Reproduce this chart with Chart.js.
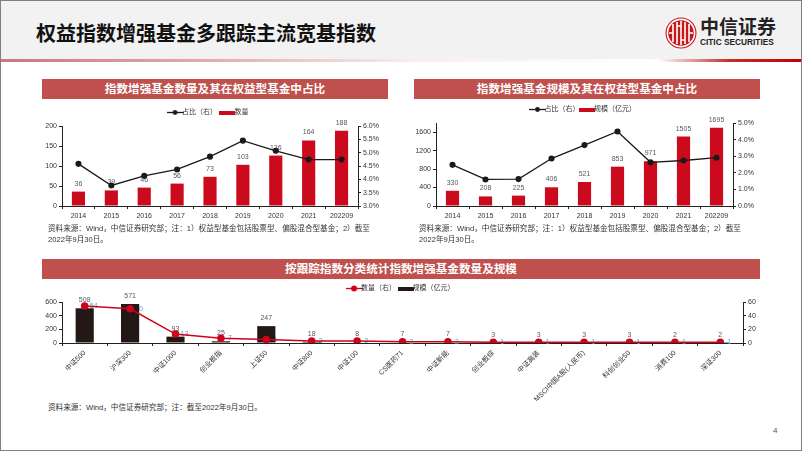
<!DOCTYPE html>
<html>
<head>
<meta charset="utf-8">
<script src="https://cdn.jsdelivr.net/npm/chart.js@4/dist/chart.umd.min.js"></script>
<style>
html,body{margin:0;padding:0;background:#fff;}
body{width:802px;height:451px;position:relative;overflow:hidden;font-family:"Liberation Sans","Noto Sans CJK SC",sans-serif;}
.abs{position:absolute;}
#frame{left:0;top:0;width:800px;height:449px;border:1px solid #808080;border-width:1px 1px 2px 1px;z-index:5;pointer-events:none;}
#head{left:0;top:0;width:802px;height:59px;background:#f2f2f2;}
#rule{left:0;top:59px;width:802px;height:3px;background:linear-gradient(90deg,#c9777a 0%,#e6b5b7 30%,#fbeeee 52%,#fff 82%,#c62a2a 91%,#c00000 100%);}
#title{left:36px;top:20px;font-size:20px;line-height:28px;font-weight:bold;color:#111;white-space:nowrap;}
.banner{background:#c0504d;color:#fff;font-weight:bold;font-size:11.6px;line-height:20px;height:20px;text-align:center;}
.note{font-size:7.6px;line-height:11px;color:#333;white-space:nowrap;}
canvas{position:absolute;}
#logoCn{left:700px;top:14px;font-size:19px;line-height:24px;font-weight:bold;color:#222;font-family:"Noto Sans CJK SC";white-space:nowrap;}
#logoEn{left:700px;top:37px;font-size:8.3px;line-height:10px;font-weight:bold;color:#222;white-space:nowrap;}
#page{left:773px;top:426px;font-size:8px;line-height:10px;color:#555;}
</style>
</head>
<body>
<div class="abs" id="head"></div>
<div class="abs" id="rule"></div>
<div class="abs" id="title">权益指数增强基金多跟踪主流宽基指数</div>
<svg class="abs" style="left:665px;top:17px" width="32" height="32" viewBox="0 0 32 32">
  <circle cx="16" cy="16" r="15.5" fill="#c8161d"/>
  <g fill="none" stroke="#fff" stroke-width="1.6">
    <circle cx="16" cy="16" r="13.6"/>
    <path d="M8 7v18M12 5v22M16 4v24M20 5v22M24 7v18"/>
    <path d="M4 16h4M24 16h4M12 9h4M16 23h4"/>
  </g>
</svg>
<div class="abs" id="logoCn">中信证券</div>
<div class="abs" id="logoEn">CITIC SECURITIES</div>

<div class="abs banner" style="left:42px;top:79px;width:346px">指数增强基金数量及其在权益型基金中占比</div>
<div class="abs banner" style="left:414px;top:79px;width:346px">指数增强基金规模及其在权益型基金中占比</div>
<div class="abs banner" style="left:42px;top:259px;width:718px">按跟踪指数分类统计指数增强基金数量及规模</div>

<canvas id="c1" style="left:30px;top:102px" width="360" height="122"></canvas>
<canvas id="c2" style="left:405px;top:102px" width="360" height="122"></canvas>
<canvas id="c3" style="left:30px;top:279px" width="745" height="122"></canvas>

<div class="abs note" style="left:48px;top:223px">资料来源：Wind，中信证券研究部；注：1）权益型基金包括股票型、偏股混合型基金；2）截至<br>2022年9月30日。</div>
<div class="abs note" style="left:419px;top:223px">资料来源：Wind，中信证券研究部；注：1）权益型基金包括股票型、偏股混合型基金；2）截至<br>2022年9月30日。</div>
<div class="abs note" style="left:48px;top:402px">资料来源：Wind，中信证券研究部；注：截至2022年9月30日。</div>
<div class="abs" id="page">4</div>
<div class="abs" id="frame"></div>

<script>
const years=['2014','2015','2016','2017','2018','2019','2020','2021','202209'];
const fundCount=[36,39,46,56,73,103,126,164,188];
const countShare=[4.58,3.77,4.13,4.37,4.85,5.45,5.07,4.74,4.74];
const fundSize=[330,208,225,406,521,853,971,1505,1695];
const sizeShare=[2.48,1.6,1.62,2.86,3.67,4.49,2.63,2.74,2.91];
const indexNames=['中证500','沪深300','中证1000','创业板指','上证50','中证800','中证100','CS医药71','中证新能','创业板综','中证高装','MSCI中国A股(人民币)','科创创业50','消费100','深证300'];
const indexSize=[508,571,93,25,247,18,8,7,7,3,3,3,3,2,2];
const indexCount=[54,50,13,7,5,3,3,2,2,1,1,1,1,1,1];

const FONT='"Liberation Sans","Noto Sans CJK SC",sans-serif';
const RED='#cc0a1e', DARK='#231815', AXIS='#222', TXT='#333';
Chart.defaults.animation=false;
Chart.defaults.font.family=FONT;

function barGlyph(color,w,h){
  const c=document.createElement('canvas');c.width=w;c.height=h;
  const g=c.getContext('2d');g.fillStyle=color;g.fillRect(0,0,w,h);
  return c;
}
function lineGlyph(color,w,h,r){
  const c=document.createElement('canvas');c.width=w;c.height=h;
  const g=c.getContext('2d');
  g.strokeStyle=color;g.lineWidth=1.3;g.beginPath();g.moveTo(0,h/2);g.lineTo(w,h/2);g.stroke();
  g.fillStyle=color;g.beginPath();g.arc(w/2,h/2,r,0,Math.PI*2);g.fill();
  return c;
}

// value labels, drawn under the marks like the original
const labelPlugin={
  id:'valueLabels',
  beforeDatasetsDraw(chart){
    const ctx=chart.ctx;
    ctx.save();
    ctx.textAlign='center';
    ctx.textBaseline='middle';
    chart.data.datasets.forEach((ds,i)=>{
      if(!ds.showLabels) return;
      const meta=chart.getDatasetMeta(i);
      ctx.font='7px '+FONT;
      ctx.fillStyle=ds.labelColor;
      meta.data.forEach((el,k)=>{
        ctx.fillText(String(ds.data[k]),el.x+(ds.labelDx||0),el.y+(ds.labelDy||0));
      });
    });
    ctx.restore();
  }
};

function yAxis(pos,min,max,step,width,fmt,mirrorSide){
  return {
    position:pos,min,max,
    ticks:{stepSize:step,color:TXT,font:{size:7},padding:2,callback:fmt},
    grid:{drawOnChartArea:false,color:AXIS,tickLength:3},
    border:{color:AXIS,display:true},
    afterFit(s){s.width=width;},
    afterBuildTicks(s){s.ticks=s.ticks;}
  };
}

function makeChart(id,cfg){
  return new Chart(document.getElementById(id),{
    type:'bar',
    data:{labels:cfg.labels,datasets:[
      {type:'line',label:cfg.lineName,data:cfg.line,yAxisID:'y2',borderColor:cfg.lineColor,backgroundColor:cfg.lineColor,
       borderWidth:cfg.lineWidth||1.3,pointRadius:cfg.pointR,pointBackgroundColor:cfg.lineColor,pointBorderColor:cfg.lineColor,
       tension:0,order:1,pointStyle:'circle',
       showLabels:cfg.lineLabels,labelColor:'#4bacc6',labelDx:9,labelDy:0},
      {type:'bar',label:cfg.barName,data:cfg.bars,yAxisID:'y1',backgroundColor:cfg.barColor,
       barPercentage:0.4,categoryPercentage:1,order:2,
       showLabels:true,labelColor:'#595959',labelDy:-8}
    ]},
    plugins:[labelPlugin],
    options:{
      responsive:false,
      layout:{padding:cfg.padding},
      plugins:{
        tooltip:{enabled:false},
        legend:{
          display:true,position:'top',reverse:true,
          labels:{
            usePointStyle:true,color:TXT,font:{size:7},boxWidth:16,boxHeight:6,padding:cfg.legendPad,
            generateLabels(chart){
              return [
                {text:cfg.barName,pointStyle:barGlyph(cfg.barColor,16,4),fontColor:TXT,datasetIndex:1},
                {text:cfg.lineName,pointStyle:lineGlyph(cfg.lineColor,17,7,cfg.pointR),fontColor:TXT,datasetIndex:0}
              ];
            }
          }
        }
      },
      scales:{
        x:{
          ticks:{color:TXT,font:{size:7},autoSkip:false,padding:cfg.xPad,maxRotation:cfg.rot,minRotation:cfg.rot},
          grid:{drawOnChartArea:false,color:AXIS,tickLength:3,offset:true},
          border:{color:AXIS},
          afterFit(s){s.height=cfg.xHeight;}
        },
        y1:yAxis('left',cfg.y1[0],cfg.y1[1],cfg.y1[2],cfg.yW,v=>v),
        y2:yAxis('right',cfg.y2[0],cfg.y2[1],cfg.y2[2],cfg.y2W,cfg.y2Fmt)
      }
    }
  });
}

const pct1=v=>v.toFixed(1)+'%';

makeChart('c1',{labels:years,bars:fundCount,line:countShare,barName:'数量',lineName:'占比（右）',
  barColor:RED,lineColor:'#1a1a1a',pointR:2.4,lineLabels:false,
  y1:[0,200,50],y2:[3,6,0.5],y2Fmt:pct1,yW:32,y2W:32,xHeight:18,xPad:3,rot:0,legendPad:7,
  padding:{left:0,right:0,top:0,bottom:0}});

makeChart('c2',{labels:years,bars:fundSize,line:sizeShare,barName:'规模（亿元）',lineName:'占比（右）',
  barColor:RED,lineColor:'#1a1a1a',pointR:2.4,lineLabels:false,
  y1:[0,1800,200],y2:[0,5,1],y2Fmt:pct1,yW:31,y2W:32,xHeight:18,xPad:3,rot:0,legendPad:4,
  padding:{left:0,right:0,top:0,bottom:0}});

makeChart('c3',{labels:indexNames,bars:indexSize,line:indexCount,barName:'规模（亿元）',lineName:'数量（右）',
  barColor:DARK,lineColor:'#d0021b',pointR:3,lineWidth:1.5,lineLabels:true,
  y1:[0,600,100],y2:[0,60,10],y2Fmt:v=>v,yW:32,y2W:32,xHeight:58,xPad:3,rot:45,legendPad:6,
  padding:{left:0,right:0,top:0,bottom:0}});
</script>
</body>
</html>
